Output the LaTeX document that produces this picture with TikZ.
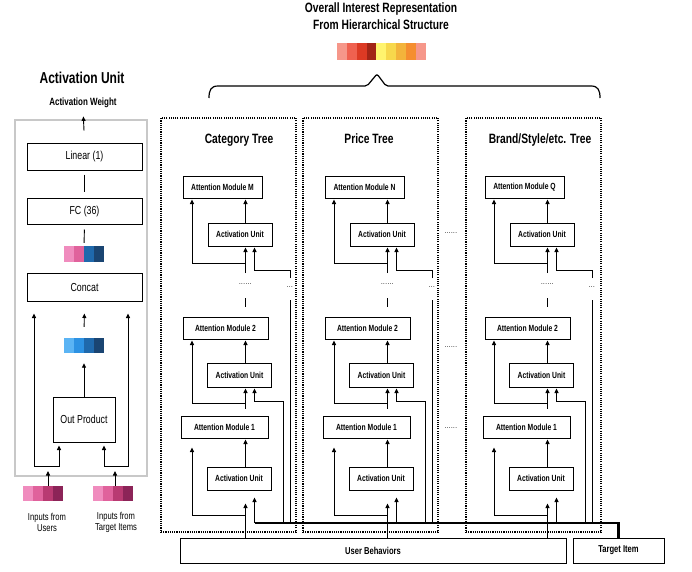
\documentclass[tikz,border=0pt]{standalone}
\usepackage{fontspec}
\setmainfont{Liberation Sans}[FakeStretch=0.76]
\usetikzlibrary{arrows.meta,calc}
\newcommand\fsz[1]{\fontsize{#1}{#1}\selectfont}
\newcommand\dt{.\kern0.45pt}
\definecolor{pkA}{HTML}{F08CBE}
\definecolor{pkB}{HTML}{E0629C}
\definecolor{pkC}{HTML}{B93A72}
\definecolor{pkD}{HTML}{8C2458}
\definecolor{blA}{HTML}{5BB4F4}
\definecolor{blB}{HTML}{2D92E3}
\definecolor{blC}{HTML}{1F69AC}
\definecolor{blD}{HTML}{1A4572}
\definecolor{tA}{HTML}{F6978A}
\definecolor{tB}{HTML}{EF6150}
\definecolor{tC}{HTML}{DC3A24}
\definecolor{tD}{HTML}{A22516}
\definecolor{tE}{HTML}{FFF46E}
\definecolor{tF}{HTML}{F7D84C}
\definecolor{tG}{HTML}{F3B43B}
\definecolor{tH}{HTML}{F58E2F}
\definecolor{panelgray}{HTML}{C8C8C8}
\tikzset{
  ln/.style={line width=0.9pt},
  arr/.style={line width=0.9pt,-{Triangle[length=4.5pt,width=4pt]},shorten >=1pt},
  darr/.style={line width=0.9pt,{Triangle[length=4.5pt,width=4pt]}-{Triangle[length=4.5pt,width=4pt]}},
  box/.style={draw,line width=1pt,inner sep=0pt,fill=white},
  ambox/.style={box,minimum height=22pt,font=\bfseries\fsz{8.9}},
  aubox/.style={box,minimum width=64pt,minimum height=23pt,font=\bfseries\fsz{8.9}},
  lbox/.style={box,minimum width=115pt,font=\fsz{11.6}},
  dotbox/.style={draw,line width=1.1pt,dash pattern=on 1.1pt off 1.1pt},
  bus/.style={line width=2.6pt},
  ttl/.style={font=\bfseries\fsz{13.5},inner sep=0pt},
  dots/.style={font=\fsz{8},inner sep=0pt},
  bar/.style={inner sep=0pt,minimum height=16pt,minimum width=40pt},
}
\begin{document}
\begin{tikzpicture}[x=1pt,y=-1pt]
\useasboundingbox (0,0) rectangle (692,571);

% ---------------- top: overall representation ----------------
\node[ttl,anchor=base] (ov1) at (381,12) {Overall Interest Representation};
\node[ttl,anchor=base] (ov2) at (381,29.5) {From Hierarchical Structure};
\node[inner sep=0pt,minimum width=89pt,minimum height=17pt] (obar) at (381.5,51.5) {};
\foreach \c [count=\i from 0] in {tA,tB,tC,tD,tE,tF,tG,tH,tA}
  \fill[\c] ($(obar.north west)+(\i*9.9,0)$) rectangle ++(9.9,17);
\draw[line width=1.2pt,rounded corners=2pt] (209,98) .. controls (209,90) and (211,86) .. (220,86)
  -- (367,86) -- (377,74) -- (386,86) -- (589,86) .. controls (598,86) and (600,90) .. (600,98);

% ---------------- left: activation unit ----------------
\node[ttl,font=\bfseries\fsz{15.8},anchor=base] (autitle) at (82,83) {Activation Unit};
\node[inner sep=0pt,font=\bfseries\fsz{10.5},anchor=base] (aw) at (83,105) {Activation Weight};
\node[draw=panelgray,line width=2.6pt,minimum width=132pt,minimum height=356pt,inner sep=0pt] (panel) at (81,298) {};
\node[lbox,minimum height=27pt] (linear) at (84.5,156.5) {Linear (1)};
\node[lbox,minimum height=26pt] (fc) at (84.5,211) {FC (36)};
\node[bar] (pbar) at (84,254) {};
\foreach \c [count=\i from 0] in {pkA,pkB,blC,blD}
  \fill[\c] ($(pbar.north west)+(\i*10,0)$) rectangle ++(10,16);
\node[lbox,minimum height=28pt] (concat) at (84.5,287) {Concat};
\node[bar,minimum height=15pt] (bbar) at (84,345.5) {};
\foreach \c [count=\i from 0] in {blA,blB,blC,blD}
  \fill[\c] ($(bbar.north west)+(\i*10,0)$) rectangle ++(10,15);
\node[box,minimum width=62pt,minimum height=45pt,font=\fsz{11.6}] (op) at (84,419.5) {Out Product};
\node[bar,minimum height=15pt] (ubar) at (43,493.5) {};
\node[bar,minimum height=15pt] (tbar) at (113.5,493.5) {};
\foreach \c [count=\i from 0] in {pkA,pkB,pkC,pkD}{
  \fill[\c] ($(ubar.north west)+(\i*10,0)$) rectangle ++(10,15);
  \fill[\c] ($(tbar.north west)+(\i*10,0)$) rectangle ++(10,15);
}
\node[align=center,font=\fsz{10},inner sep=0pt] (inu) at (47,522) {Inputs from\\[1pt]Users};
\node[align=center,font=\fsz{10},inner sep=0pt] (intg) at (116,522) {Inputs from\\[1pt]Target Items};

\coordinate (cl) at (34,466);
\coordinate (opl) at (59,466);
\coordinate (opr) at (104,466);
\coordinate (cr) at (128,466);
\coordinate (inU) at (48,471);
\coordinate (inT) at (115,471);

\draw[arr,shorten <=12pt,shorten >=9pt] (linear.north) -- (aw.south);
\draw[ln,shorten <=4pt,shorten >=6pt] (linear.south) -- (fc.north);
\draw[ln,shorten <=5pt,shorten >=3pt] (fc.south) -- (pbar.north);
\draw[arr,shorten <=11pt,shorten >=12pt] (bbar.north) -- (concat.south);
\draw[arr,shorten >=10pt] (op.north) -- (bbar.south);
\draw[darr,shorten <=3pt,shorten >=12pt] (op.south -| opl) -- (opl) -- (cl) -- (concat.south -| cl);
\draw[darr,shorten <=3pt,shorten >=12pt] (op.south -| opr) -- (opr) -- (cr) -- (concat.south -| cr);
\draw[arr,shorten >=0pt] (ubar.north -| inU) -- (inU);
\draw[arr,shorten >=0pt] (tbar.north -| inT) -- (inT);

% ---------------- bottom ----------------
\node[box,minimum width=386pt,minimum height=25pt,font=\bfseries\fsz{10}] (ub) at (373,550.5) {User Behaviors};
\node[box,minimum width=91pt,minimum height=25pt,font=\bfseries\fsz{10}] (ti) at (618.5,550.5) {Target Item};

% ---------------- trees ----------------
\node[ttl,anchor=base] (tc) at (239,143) {Category Tree};
\node[ttl,anchor=base] (tp) at (369,143) {Price Tree};
\node[ttl,anchor=base] (tb) at (540,143) {Brand/Style/etc. Tree};

\foreach \t/\dx/\bo/\L in {c/0/0/M,p/142/0/N,b/302/3/Q}{
\begin{scope}[xshift=\dx pt]
  \node[dotbox,minimum width=135pt,minimum height=414pt,inner sep=0pt] (frame\t) at (228.5+\bo,325) {};
  \coordinate (vl\t) at (192,0);
  \coordinate (vx\t) at (245.5,0);
  \coordinate (vr\t) at (254.5,0);
  \coordinate (jT\t) at (245.5,263);
  \coordinate (sT\t) at (245.5,273);
  \coordinate (rA\t) at (290,278);
  \coordinate (rB\t) at (254.5,270);
  \coordinate (sA\t) at (245.5,298);
  \coordinate (rC\t) at (290,300);
  \coordinate (j2\t) at (245.5,403);
  \coordinate (r2\t) at (254.5,401);
  \coordinate (j1\t) at (245.5,515);
  \coordinate (r1\t) at (254.5,523);
  \coordinate (b1\t) at (283,523);
  \coordinate (b2\t) at (290,523);

  \node[ambox,minimum width=79pt] (amT\t) at (222.5,187) {Attention Module \L};
  \node[aubox] (auT\t) at (240,234.5) {Activation Unit};
  \node[ambox,minimum width=85pt] (am2\t) at (225.5,328) {Attention Module 2};
  \node[aubox,minimum height=24pt] (au2\t) at (239.5,375) {Activation Unit};
  \node[ambox,minimum width=87pt] (am1\t) at (224.5,427) {Attention Module 1};
  \node[aubox] (au1\t) at (239,478.5) {Activation Unit};
  \node[dots] (dA\t) at (245.5,284) {\dt\dt\dt\dt\dt\dt};
  \node[dots] (dB\t) at (290,287) {\dt\dt\dt};

  \draw[arr] (auT\t.north -| vx\t) -- (amT\t.south -| vx\t);
  \draw[arr] (jT\t) -| (amT\t.south -| vl\t);
  \draw[arr] (sT\t) -- (auT\t.south -| vx\t);
  \draw[arr] (rA\t) |- (rB\t) -- (auT\t.south -| vr\t);
  \draw[ln,shorten <=10pt] (am2\t.north -| vx\t) -- (sA\t);
  \draw[ln] (rC\t) -- (b2\t);
  \draw[arr] (au2\t.north -| vx\t) -- (am2\t.south -| vx\t);
  \draw[arr] (j2\t) -| (am2\t.south -| vl\t);
  \draw[arr,shorten <=7pt] (am1\t.north -| vx\t) -- (au2\t.south -| vx\t);
  \draw[arr] (b1\t) |- (r2\t) -- (au2\t.south -| vr\t);
  \draw[arr] (au1\t.north -| vx\t) -- (am1\t.south -| vx\t);
  \draw[arr,shorten >=9pt] (j1\t) -| (am1\t.south -| vl\t);
  \draw[arr,shorten >=13pt] (ub.north -| vx\t) -- (au1\t.south -| vx\t);
  \draw[arr,shorten >=7pt] (r1\t) -- (au1\t.south -| vr\t);
\end{scope}
}

\node[dots] (g1) at (451,233) {\dt\dt\dt\dt\dt\dt};
\node[dots] (g2) at (451,347) {\dt\dt\dt\dt\dt\dt};
\node[dots] (g3) at (451,428) {\dt\dt\dt\dt\dt\dt};

\draw[bus] (r1c) -| (ti.north);
\end{tikzpicture}
\end{document}
